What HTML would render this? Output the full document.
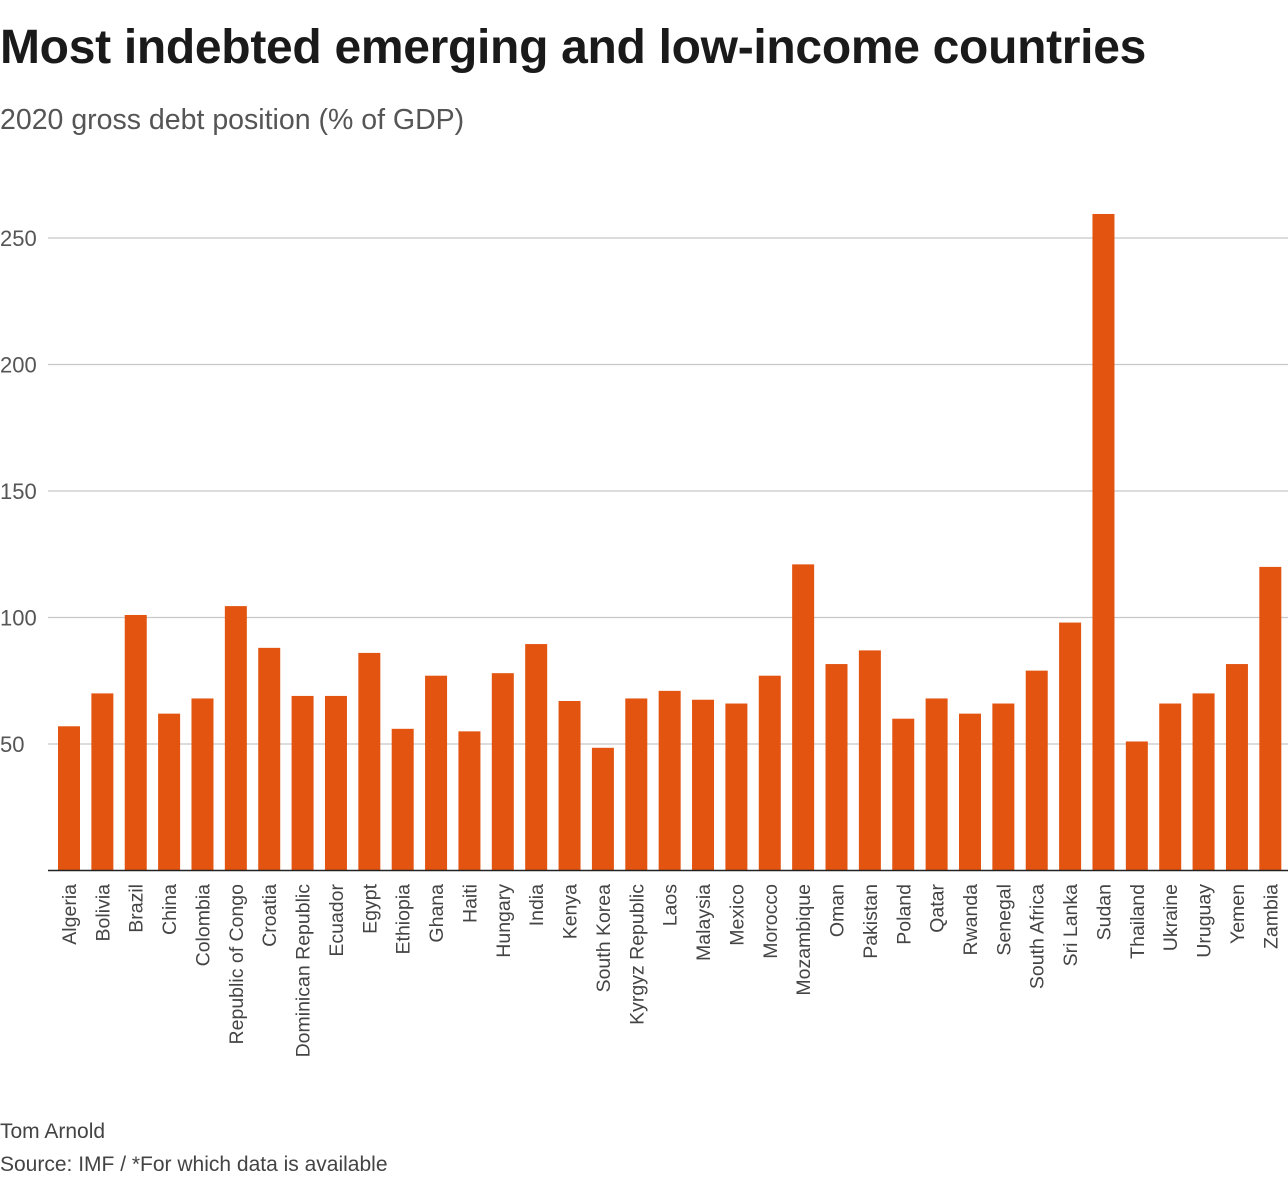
<!DOCTYPE html>
<html><head><meta charset="utf-8"><style>
body{margin:0;width:1288px;height:1200px;background:#fff;font-family:"Liberation Sans",sans-serif;overflow:hidden;position:relative}
#title{position:absolute;left:0;top:20px;font-size:48px;font-weight:bold;color:#1a1a1a;letter-spacing:-0.3px}
#sub{position:absolute;left:0;top:104px;font-size:28.5px;color:#555}
.foot{position:absolute;left:0;font-size:21px;color:#444}
svg{position:absolute;left:0;top:0}
</style></head><body>
<div id="title">Most indebted emerging and low-income countries</div>
<div id="sub">2020 gross debt position (% of GDP)</div>
<svg id="chart" width="1288" height="1100"></svg>
<div class="foot" style="top:1120px">Tom Arnold</div>
<div class="foot" style="top:1153px">Source: IMF / *For which data is available</div>
<script>
const categories=["Algeria","Bolivia","Brazil","China","Colombia","Republic of Congo","Croatia","Dominican Republic","Ecuador","Egypt","Ethiopia","Ghana","Haiti","Hungary","India","Kenya","South Korea","Kyrgyz Republic","Laos","Malaysia","Mexico","Morocco","Mozambique","Oman","Pakistan","Poland","Qatar","Rwanda","Senegal","South Africa","Sri Lanka","Sudan","Thailand","Ukraine","Uruguay","Yemen","Zambia"];
const values=[57,70,101,62,68,104.5,88,69,69,86,56,77,55,78,89.5,67,48.5,68,71,67.5,66,77,121,81.6,87,60,68,62,66,79,98,259.5,51,66,70,81.6,120];
const ticks=[50,100,150,200,250];
const NS="http://www.w3.org/2000/svg",svg=document.getElementById('chart');
const y=v=>870.5-v*2.53, x=i=>58+i*33.37, bw=22;
function mk(t,a){const e=document.createElementNS(NS,t);for(const k in a)e.setAttribute(k,a[k]);svg.appendChild(e);return e;}
ticks.forEach(t=>{
 const l=mk('line',{x1:48,x2:1288,y1:y(t),y2:y(t),stroke:'#c8c8c8','stroke-width':1.3});
 
 
 const tx=mk('text',{x:0,y:y(t)+8,'font-size':22,fill:'#555','font-family':'Liberation Sans, sans-serif'});
 tx.textContent=t;
 
 
});
categories.forEach((c,i)=>{
 const r=mk('rect',{x:x(i),y:y(values[i]),width:bw,height:y(0)-y(values[i]),fill:'#e35411'});
 
 
 const cx=x(i)+bw/2+7;
 const t=mk('text',{x:0,y:0,transform:`translate(${cx},884) rotate(-90)`,'text-anchor':'end','font-size':19.5,fill:'#444','font-family':'Liberation Sans, sans-serif'});
 t.textContent=c;
 
 
});
const ax=mk('line',{x1:48,x2:1288,y1:y(0),y2:y(0),stroke:'#222','stroke-width':1.5});


</script>
</body></html>
